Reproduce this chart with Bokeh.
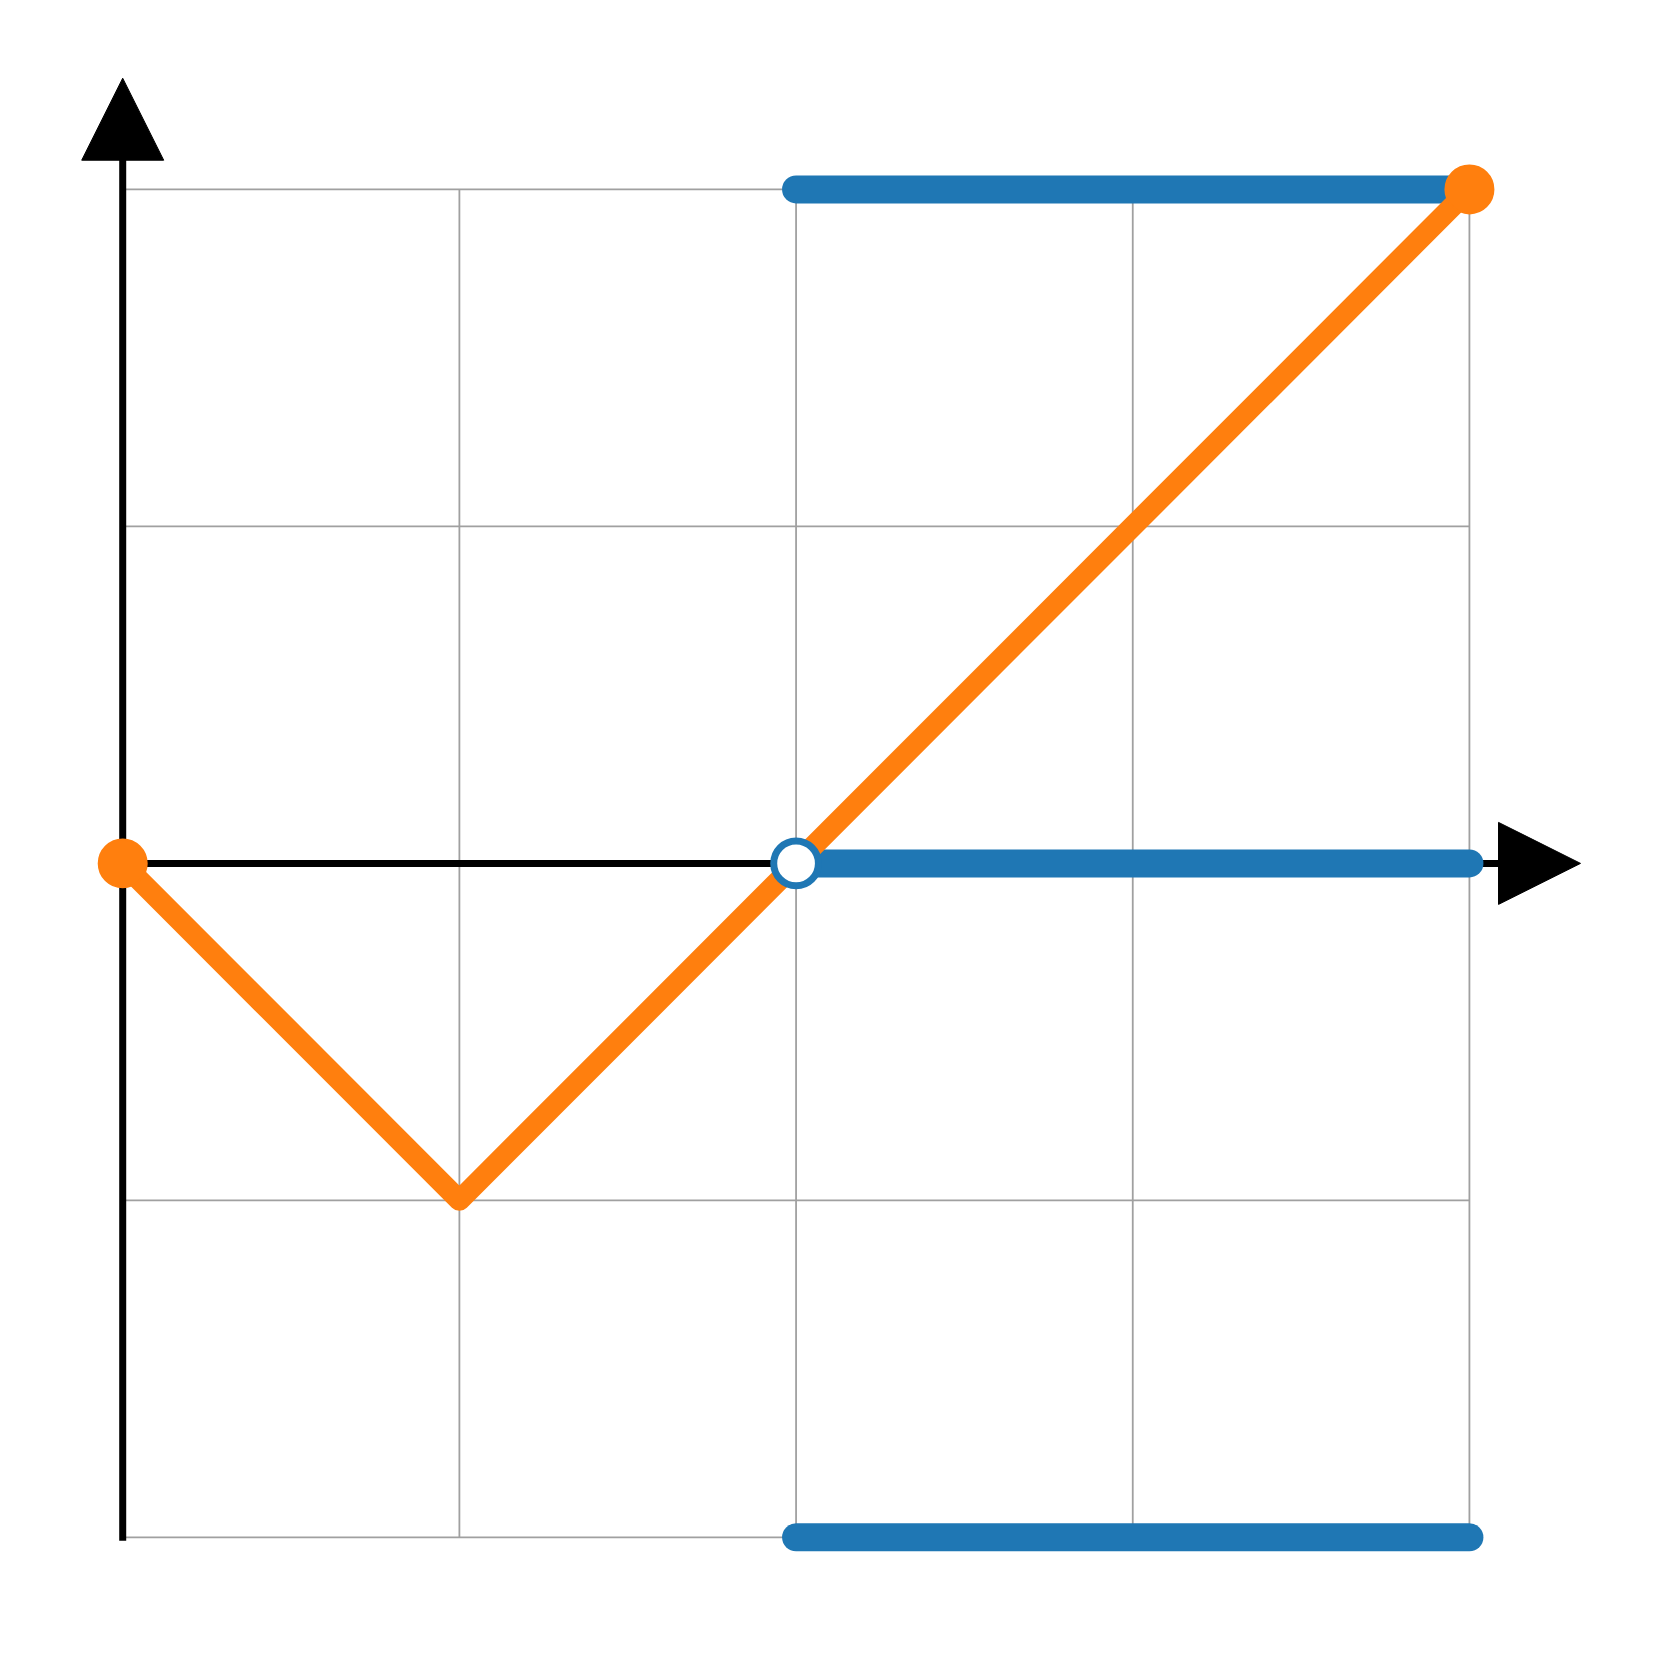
from bokeh.plotting import figure
from bokeh.models import Range1d, Arrow, NormalHead
from bokeh.embed import file_html
from bokeh.resources import INLINE

# ---- data ----
x_ticks = [0, 1, 2, 3, 4]
y_ticks = [-2, -1, 0, 1, 2]

orange_x = [0, 1, 2, 4]
orange_y = [0, -1, 0, 2]

blue_x0 = [2, 2, 2]
blue_x1 = [4, 4, 4]
blue_y = [2, 0, -2]

open_x = [2]
open_y = [0]

closed_x = [0, 4]
closed_y = [0, 2]

BLUE = "#1f77b4"
ORANGE = "#ff7f0e"
GRID = "#a0a0a0"

# axes extents (axes edge = data range + 5% margin, arrow tip beyond)
x_min, x_max = min(x_ticks), max(x_ticks)
y_min, y_max = min(y_ticks), max(y_ticks)
x_edge = x_max + 0.05 * (x_max - x_min)
y_edge = y_max + 0.05 * (y_max - y_min)
x_tip = x_edge + 0.13
y_tip = y_edge + 0.13

p = figure(width=1644, height=1644, output_backend="svg", toolbar_location=None,
           x_range=Range1d(-0.363, 4.520), y_range=Range1d(-2.318, 2.5606),
           x_axis_location=None, y_axis_location=None, min_border=0)
p.outline_line_color = None
p.grid.visible = False
p.background_fill_color = "white"

# grid lines (bounded to the data range)
p.segment(x0=x_ticks, y0=[y_min] * len(x_ticks), x1=x_ticks, y1=[y_max] * len(x_ticks),
          line_color=GRID, line_width=1.8)
p.segment(x0=[x_min] * len(y_ticks), y0=y_ticks, x1=[x_max] * len(y_ticks), y1=y_ticks,
          line_color=GRID, line_width=1.8)

# spines
p.segment(x0=[0], y0=[y_min], x1=[0], y1=[y_edge], line_color="black", line_width=7,
          line_cap="square")
p.segment(x0=[0], y0=[0], x1=[x_edge], y1=[0], line_color="black", line_width=7,
          line_cap="square")

# arrow heads
p.add_layout(Arrow(end=NormalHead(size=82, fill_color="black", line_color="black", line_width=1),
                   x_start=x_edge, y_start=0, x_end=x_tip, y_end=0,
                   line_color="black", line_width=7))
p.add_layout(Arrow(end=NormalHead(size=82, fill_color="black", line_color="black", line_width=1),
                   x_start=0, y_start=y_edge, x_end=0, y_end=y_tip,
                   line_color="black", line_width=7))

# blue step segments
p.segment(x0=blue_x0, y0=blue_y, x1=blue_x1, y1=blue_y, line_color=BLUE, line_width=28,
          line_cap="round")

# orange polyline
p.line(orange_x, orange_y, line_color=ORANGE, line_width=21, line_join="round")

# closed orange endpoints
p.scatter(closed_x, closed_y, size=48, fill_color=ORANGE, line_color=ORANGE, line_width=2)

# open blue point
p.scatter(open_x, open_y, size=44.7, fill_color="white", line_color=BLUE, line_width=7)

open("out.html", "w").write(file_html(p, INLINE))
